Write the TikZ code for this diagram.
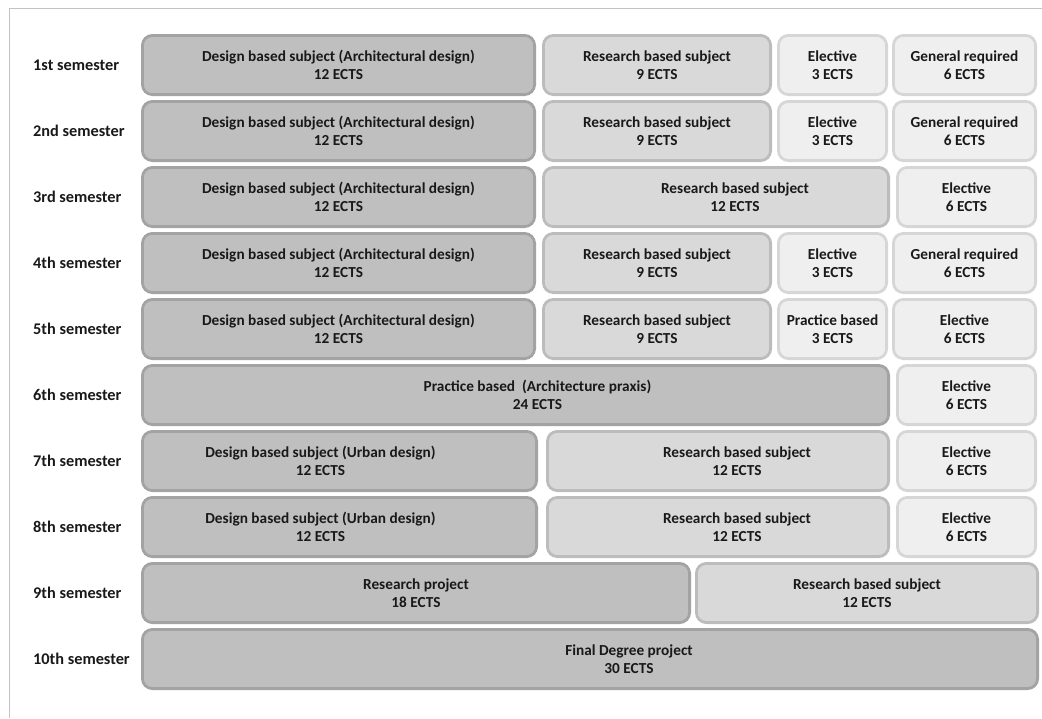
\documentclass[tikz,border=0pt]{standalone}
\usepackage{fontspec}
\setmainfont{Carlito}
\usetikzlibrary{positioning}
\definecolor{framegray}{RGB}{195,195,195}
\definecolor{darkfill}{RGB}{191,191,191}
\definecolor{darkline}{RGB}{163,163,163}
\definecolor{midfill}{RGB}{217,217,217}
\definecolor{midline}{RGB}{188,188,188}
\definecolor{lightfill}{RGB}{239,239,239}
\definecolor{lightline}{RGB}{214,214,214}
\definecolor{txtdark}{RGB}{25,25,25}
\tikzset{
  basebox/.style={rectangle,rounded corners=10pt,line width=2.8pt,inner sep=0pt,minimum height=59.2pt,
    align=center,text=txtdark,font=\fontsize{15.3}{17.5}\selectfont\bfseries},
  darkbox/.style={basebox,fill=darkfill,draw=darkline},
  midbox/.style={basebox,fill=midfill,draw=midline},
  lightbox/.style={basebox,fill=lightfill,draw=lightline},
  boxtext/.style={align=center,inner sep=0pt,text=txtdark,font=\fontsize{15.3}{17.5}\selectfont\bfseries},
  semlabel/.style={anchor=west,inner sep=0pt,text=txtdark,font=\fontsize{16.3}{18}\selectfont\bfseries}
}
\begin{document}
\begin{tikzpicture}[x=1pt,y=-1pt]
  \useasboundingbox (0,0) rectangle (1042,718);
  \draw[framegray,line width=1pt] (9,718) -- (9,8) -- (1042,8);

  % semester labels
  \foreach \s [count=\r] in {1st,2nd,3rd,4th,5th,6th,7th,8th,9th,10th}
    \node[semlabel] (sem\r) at (33,{65+66*(\r-1)}) {\s\ semester};

  % 1st semester
  \node[darkbox,minimum width=392.2pt] (d1) at (338.5,65) {Design based subject (Architectural design)\\12 ECTS};
  \node[midbox,minimum width=227.2pt] (r1) at (657,65) {Research based subject\\9 ECTS};
  \node[lightbox,minimum width=108.2pt] (e1) at (832.5,65) {Elective\\3 ECTS};
  \node[lightbox,minimum width=142.2pt] (g1) at (964.5,65) {General required\\6 ECTS};

  % 2nd semester
  \node[darkbox,minimum width=392.2pt] (d2) at (338.5,131) {Design based subject (Architectural design)\\12 ECTS};
  \node[midbox,minimum width=227.2pt] (r2) at (657,131) {Research based subject\\9 ECTS};
  \node[lightbox,minimum width=108.2pt] (e2) at (832.5,131) {Elective\\3 ECTS};
  \node[lightbox,minimum width=142.2pt] (g2) at (964.5,131) {General required\\6 ECTS};

  % 3rd semester
  \node[darkbox,minimum width=392.2pt] (d3) at (338.5,197) {Design based subject (Architectural design)\\12 ECTS};
  \node[midbox,minimum width=345.2pt] (r3) at (716,197) {};
  \node[boxtext] (r3t) at ([xshift=19pt]r3.center) {Research based subject\\12 ECTS};
  \node[lightbox,minimum width=138.2pt] (e3) at (966.5,197) {Elective\\6 ECTS};

  % 4th semester
  \node[darkbox,minimum width=392.2pt] (d4) at (338.5,263) {Design based subject (Architectural design)\\12 ECTS};
  \node[midbox,minimum width=227.2pt] (r4) at (657,263) {Research based subject\\9 ECTS};
  \node[lightbox,minimum width=108.2pt] (e4) at (832.5,263) {Elective\\3 ECTS};
  \node[lightbox,minimum width=142.2pt] (g4) at (964.5,263) {General required\\6 ECTS};

  % 5th semester
  \node[darkbox,minimum width=392.2pt] (d5) at (338.5,329) {Design based subject (Architectural design)\\12 ECTS};
  \node[midbox,minimum width=227.2pt] (r5) at (657,329) {Research based subject\\9 ECTS};
  \node[lightbox,minimum width=108.2pt] (p5) at (832.5,329) {Practice based\\3 ECTS};
  \node[lightbox,minimum width=142.2pt] (e5) at (964.5,329) {Elective\\6 ECTS};

  % 6th semester
  \node[darkbox,minimum width=746.2pt] (p6) at (515.5,395) {};
  \node[boxtext] (p6t) at ([xshift=22pt]p6.center) {Practice based\ \ (Architecture praxis)\\24 ECTS};
  \node[lightbox,minimum width=138.2pt] (e6) at (966.5,395) {Elective\\6 ECTS};

  % 7th semester
  \node[darkbox,minimum width=394.2pt] (d7) at (339.5,461) {};
  \node[boxtext] (d7t) at ([xshift=-19pt]d7.center) {Design based subject (Urban design)\\12 ECTS};
  \node[midbox,minimum width=341.2pt] (r7) at (718,461) {};
  \node[boxtext] (r7t) at ([xshift=19pt]r7.center) {Research based subject\\12 ECTS};
  \node[lightbox,minimum width=138.2pt] (e7) at (966.5,461) {Elective\\6 ECTS};

  % 8th semester
  \node[darkbox,minimum width=394.2pt] (d8) at (339.5,527) {};
  \node[boxtext] (d8t) at ([xshift=-19pt]d8.center) {Design based subject (Urban design)\\12 ECTS};
  \node[midbox,minimum width=341.2pt] (r8) at (718,527) {};
  \node[boxtext] (r8t) at ([xshift=19pt]r8.center) {Research based subject\\12 ECTS};
  \node[lightbox,minimum width=138.2pt] (e8) at (966.5,527) {Elective\\6 ECTS};

  % 9th semester
  \node[darkbox,minimum width=547.2pt] (rp9) at (416,593) {Research project\\18 ECTS};
  \node[midbox,minimum width=341.2pt] (r9) at (867,593) {Research based subject\\12 ECTS};

  % 10th semester
  \node[darkbox,minimum width=895.2pt] (f10) at (590,659) {};
  \node[boxtext] (f10t) at ([xshift=39pt]f10.center) {Final Degree project\\30 ECTS};
\end{tikzpicture}
\end{document}
